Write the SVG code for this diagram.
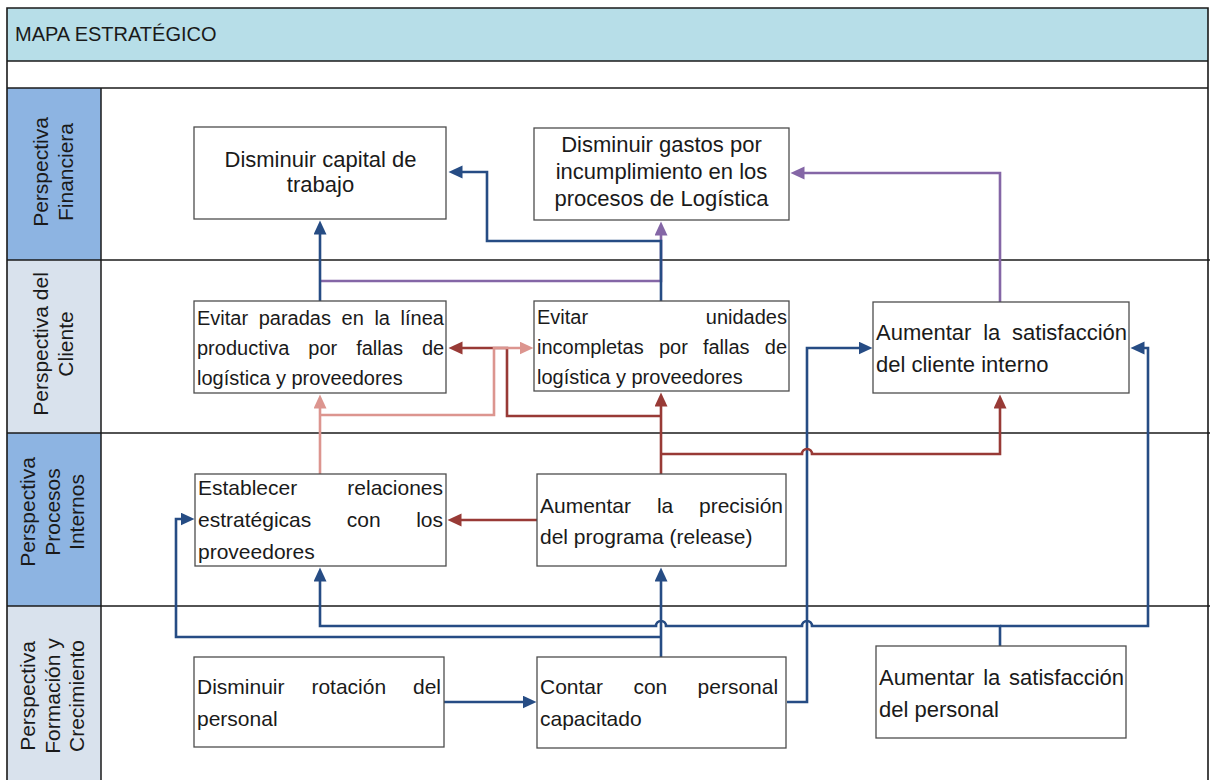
<svg xmlns="http://www.w3.org/2000/svg" width="1210" height="780" viewBox="0 0 1210 780">
  <style>
    .frame { fill: none; stroke: #1a1a1a; stroke-width: 1.6; }
    .rule { stroke: #1a1a1a; stroke-width: 1.5; }
    .node rect { fill: #ffffff; stroke: #4d4d4d; stroke-width: 1.3; }
    .node text { font-family: "Liberation Sans", Arial, sans-serif; fill: #1a1a1a; }
    .f20 { font-size: 20px; }
    .f21 { font-size: 21px; }
    .f22 { font-size: 22px; }
    .band { font-family: "Liberation Sans", Arial, sans-serif; font-size: 21px; fill: #1a1a1a; text-anchor: middle; }
    .title { font-family: "Liberation Sans", Arial, sans-serif; font-size: 20px; fill: #1a1a1a; }
    .conn path { fill: none; stroke-width: 2.6; stroke-linejoin: miter; }
    .blue { stroke: #264c84; }
    .red { stroke: #983a36; }
    .salmon { stroke: #dc958f; }
    .purple { stroke: #8466a6; }
  </style>
  <defs>
    <marker id="ah-blue" markerUnits="userSpaceOnUse" markerWidth="15" markerHeight="14" refX="0.5" refY="6.5" orient="auto">
      <path d="M0,0 L14,6.5 L0,13 z" fill="#264c84"/>
    </marker>
    <marker id="ah-red" markerUnits="userSpaceOnUse" markerWidth="15" markerHeight="14" refX="0.5" refY="6.5" orient="auto">
      <path d="M0,0 L14,6.5 L0,13 z" fill="#983a36"/>
    </marker>
    <marker id="ah-salmon" markerUnits="userSpaceOnUse" markerWidth="15" markerHeight="14" refX="0.5" refY="6.5" orient="auto">
      <path d="M0,0 L14,6.5 L0,13 z" fill="#dc958f"/>
    </marker>
    <marker id="ah-purple" markerUnits="userSpaceOnUse" markerWidth="15" markerHeight="14" refX="0.5" refY="6.5" orient="auto">
      <path d="M0,0 L14,6.5 L0,13 z" fill="#8466a6"/>
    </marker>
  </defs>

  <rect width="1210" height="780" fill="#ffffff"/>

  <!-- sheet layout: title band, spacer row, four perspective bands -->
  <g id="layout">
    <rect x="7" y="8" width="1201" height="53" fill="#b7dee8"/>
    <rect x="7" y="88" width="94" height="172" fill="#8db4e2"/>
    <rect x="7" y="260" width="94" height="173" fill="#d9e2ed"/>
    <rect x="7" y="433" width="94" height="173" fill="#8db4e2"/>
    <rect x="7" y="606" width="94" height="174" fill="#d9e2ed"/>
    <path class="frame" d="M7,781 V8 H1208 V781"/>
    <line class="rule" x1="7" y1="61" x2="1208" y2="61"/>
    <line class="rule" x1="7" y1="88" x2="1208" y2="88"/>
    <line class="rule" x1="7" y1="260" x2="1210" y2="260"/>
    <line class="rule" x1="7" y1="433" x2="1210" y2="433"/>
    <line class="rule" x1="7" y1="606" x2="1210" y2="606"/>
    <line class="rule" x1="101" y1="88" x2="101" y2="781"/>
    <text class="title" x="15" y="41">MAPA ESTRATÉGICO</text>
  </g>

  <g id="band-labels">
    <text class="band" transform="translate(0,172) rotate(-90)"><tspan x="0" y="48">Perspectiva</tspan><tspan x="0" y="73">Financiera</tspan></text>
    <text class="band" transform="translate(0,344) rotate(-90)"><tspan x="0" y="48">Perspectiva del</tspan><tspan x="0" y="73">Cliente</tspan></text>
    <text class="band" transform="translate(0,512) rotate(-90)"><tspan x="0" y="35">Perspectiva</tspan><tspan x="0" y="60">Procesos</tspan><tspan x="0" y="84">Internos</tspan></text>
    <text class="band" transform="translate(0,696) rotate(-90)"><tspan x="0" y="35">Perspectiva</tspan><tspan x="0" y="60">Formación y</tspan><tspan x="0" y="84">Crecimiento</tspan></text>
  </g>

  <!-- connectors -->
  <g id="connectors" class="conn">
    <path class="purple" d="M320,281 H661 V235" marker-end="url(#ah-purple)"/>
    <path class="purple" d="M1000,302 V173 H804" marker-end="url(#ah-purple)"/>

    <path class="blue" d="M320,301 V234" marker-end="url(#ah-blue)"/>
    <path class="blue" d="M661,301 V241 H487 V172 H462" marker-end="url(#ah-blue)"/>
    <path class="blue" d="M661,657 V581" marker-end="url(#ah-blue)"/>
    <path class="blue" d="M661,637 H176 V519 H181" marker-end="url(#ah-blue)"/>
    <path class="blue" d="M1000,646 V626 H812 a5,5 0 0 0 -10,0 H666 a5,5 0 0 0 -10,0 H320 V581" marker-end="url(#ah-blue)"/>
    <path class="blue" d="M1000,626 H1148 V348 H1144" marker-end="url(#ah-blue)"/>
    <path class="blue" d="M787,702 H807 V348 H859" marker-end="url(#ah-blue)"/>
    <path class="blue" d="M444,702 H523" marker-end="url(#ah-blue)"/>

    <path class="red" d="M661,474 V406" marker-end="url(#ah-red)"/>
    <path class="red" d="M661,416 H507 V348 H462" marker-end="url(#ah-red)"/>
    <path class="red" d="M661,454 H802 a5,5 0 0 1 10,0 H1000 V408" marker-end="url(#ah-red)"/>
    <path class="red" d="M537,520 H461" marker-end="url(#ah-red)"/>

    <path class="salmon" d="M320,474 V408" marker-end="url(#ah-salmon)"/>
    <path class="salmon" d="M320,415 H494 V348 H520" marker-end="url(#ah-salmon)"/>
  </g>

  <!-- financial perspective -->
  <g id="n-capital" class="node">
    <rect x="194" y="127" width="252" height="92"/>
    <text class="f22" text-anchor="middle"><tspan x="320.5" y="167">Disminuir capital de</tspan><tspan x="320.5" y="192">trabajo</tspan></text>
  </g>
  <g id="n-gastos" class="node">
    <rect x="534" y="128" width="255" height="92"/>
    <text class="f22" text-anchor="middle"><tspan x="661.5" y="152">Disminuir gastos por</tspan><tspan x="661.5" y="179">incumplimiento en los</tspan><tspan x="661.5" y="206">procesos de Logística</tspan></text>
  </g>

  <!-- customer perspective -->
  <g id="n-paradas" class="node">
    <rect x="194" y="301" width="252" height="92"/>
    <text class="f20"><tspan x="197" y="325">Evitar</tspan><tspan x="258.7" y="325">paradas</tspan><tspan x="341.6" y="325">en</tspan><tspan x="374.4" y="325">la</tspan><tspan x="400.6" y="325">línea</tspan></text>
    <text class="f20"><tspan x="197" y="355">productiva</tspan><tspan x="308.3" y="355">por</tspan><tspan x="356.2" y="355">fallas</tspan><tspan x="421.9" y="355">de</tspan></text>
    <text class="f20" x="197" y="385">logística y proveedores</text>
  </g>
  <g id="n-incompletas" class="node">
    <rect x="534" y="301" width="255" height="90"/>
    <text class="f20"><tspan x="537" y="324">Evitar</tspan><tspan x="705.8" y="324">unidades</tspan></text>
    <text class="f20"><tspan x="537" y="354">incompletas</tspan><tspan x="658.9" y="354">por</tspan><tspan x="702.9" y="354">fallas</tspan><tspan x="764.8" y="354">de</tspan></text>
    <text class="f20" x="537" y="384">logística y proveedores</text>
  </g>
  <g id="n-cliente-interno" class="node">
    <rect x="873" y="302" width="256" height="91"/>
    <text class="f22"><tspan x="876" y="340">Aumentar</tspan><tspan x="983.2" y="340">la</tspan><tspan x="1012.1" y="340">satisfacción</tspan></text>
    <text class="f22" x="876" y="372">del cliente interno</text>
  </g>

  <!-- internal process perspective -->
  <g id="n-proveedores" class="node">
    <rect x="195" y="474" width="251" height="92"/>
    <text class="f21"><tspan x="198" y="495">Establecer</tspan><tspan x="347.3" y="495">relaciones</tspan></text>
    <text class="f21"><tspan x="198" y="527">estratégicas</tspan><tspan x="346.8" y="527">con</tspan><tspan x="416.2" y="527">los</tspan></text>
    <text class="f21" x="198" y="559">proveedores</text>
  </g>
  <g id="n-precision" class="node">
    <rect x="537" y="474" width="249" height="92"/>
    <text class="f21"><tspan x="540" y="513">Aumentar</tspan><tspan x="656.9" y="513">la</tspan><tspan x="699" y="513">precisión</tspan></text>
    <text class="f21" x="540" y="544">del programa (release)</text>
  </g>

  <!-- learning and growth perspective -->
  <g id="n-rotacion" class="node">
    <rect x="194" y="657" width="250" height="90"/>
    <text class="f21"><tspan x="197" y="694">Disminuir</tspan><tspan x="311.4" y="694">rotación</tspan><tspan x="413" y="694">del</tspan></text>
    <text class="f21" x="197" y="726">personal</text>
  </g>
  <g id="n-capacitado" class="node">
    <rect x="537" y="657" width="249" height="91"/>
    <text class="f21"><tspan x="540" y="694">Contar</tspan><tspan x="633.4" y="694">con</tspan><tspan x="697.6" y="694">personal</tspan></text>
    <text class="f21" x="540" y="726">capacitado</text>
  </g>
  <g id="n-satisfaccion-personal" class="node">
    <rect x="876" y="646" width="250" height="92"/>
    <text class="f22"><tspan x="879" y="685">Aumentar</tspan><tspan x="983.2" y="685">la</tspan><tspan x="1009.1" y="685">satisfacción</tspan></text>
    <text class="f22" x="879" y="717">del personal</text>
  </g>
</svg>
